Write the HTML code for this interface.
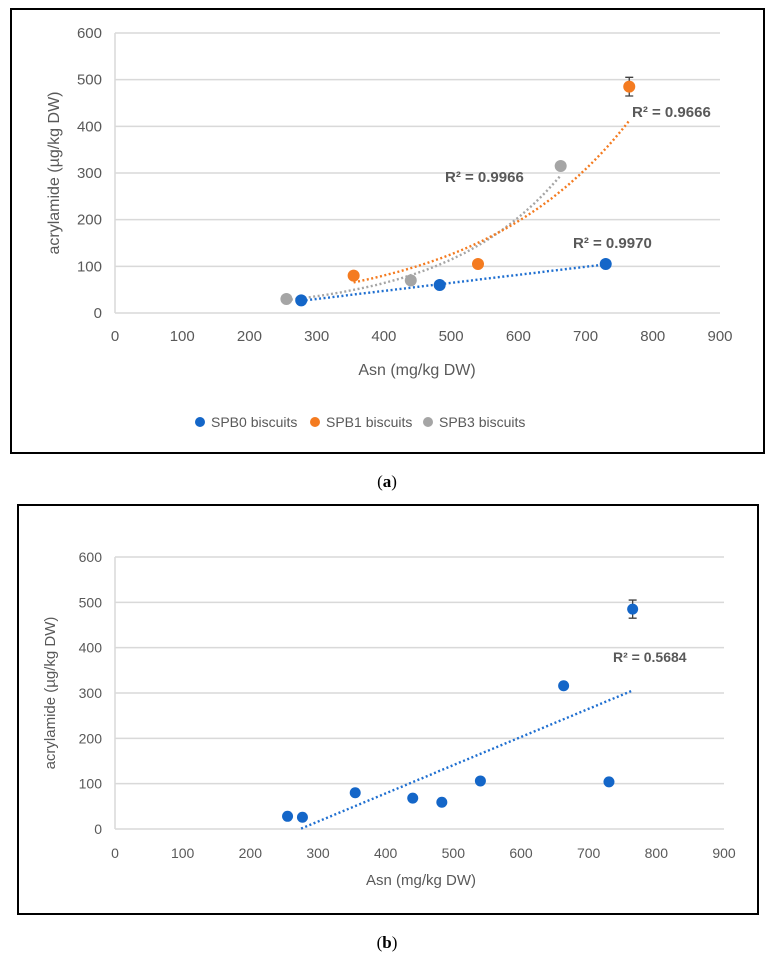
<!DOCTYPE html>
<html><head><meta charset="utf-8"><style>
body{margin:0;background:#fff;width:774px;height:964px;overflow:hidden;font-family:"Liberation Sans",sans-serif}
svg{position:absolute;left:0;top:0}
</style></head><body>
<svg id="s" width="774" height="964" font-family="Liberation Sans, sans-serif">
<rect x="11" y="9" width="753" height="444" fill="#fff" stroke="#000" stroke-width="2"/>
<rect x="18" y="505" width="740" height="409" fill="#fff" stroke="#000" stroke-width="2"/>
<text x="387" y="487" font-family="Liberation Serif, serif" font-size="17" text-anchor="middle" fill="#000">(<tspan font-weight="bold">a</tspan>)</text>
<text x="387" y="948" font-family="Liberation Serif, serif" font-size="17" text-anchor="middle" fill="#000">(<tspan font-weight="bold">b</tspan>)</text>
<g id="ga"></g><g id="gb"></g>
</svg>
<script>
const xTicks=[0,100,200,300,400,500,600,700,800,900];
const yTicks=[0,100,200,300,400,500,600];
const spb0X=[277,483,730], spb0Y=[27,60,105];
const spb1X=[355,540,765], spb1Y=[80,105,485];
const spb3X=[255,440,663], spb3Y=[30,70,315];
const spb1Err=[0,0,20];
const allX=[255,277,355,440,483,540,663,730,765];
const allY=[28,26,80,68,59,106,316,104,485];
const allErr=[0,0,0,0,0,0,0,0,20];
const NS="http://www.w3.org/2000/svg";
function el(p,t,a){const e=document.createElementNS(NS,t);for(const k in a)e.setAttribute(k,a[k]);p.appendChild(e);return e;}
function axes(g,L,R,T,B,labelSize,tickOff){
 const sx=v=>L+(R-L)*v/900, sy=v=>B-(B-T)*v/600;
 yTicks.forEach(v=>{const l=el(g,'line',{x1:L,x2:R,y1:sy(v),y2:sy(v),stroke:'#d9d9d9','stroke-width':1.5});
  
  const t=el(g,'text',{x:L-13,y:sy(v)+5,'text-anchor':'end','font-size':labelSize,fill:'#595959'});t.textContent=v;
  });
 const ax=el(g,'line',{x1:L,x2:L,y1:T,y2:B,stroke:'#d9d9d9','stroke-width':1.5});
 
 xTicks.forEach(v=>{const t=el(g,'text',{x:sx(v),y:B+tickOff,'text-anchor':'middle','font-size':labelSize,fill:'#595959'});t.textContent=v;
  });
 return [sx,sy];
}
function pts(g,xs,ys,errs,col,r,sx,sy,name){
 xs.forEach((x,i)=>{
  if(errs[i]){const e=el(g,'path',{d:`M${sx(x)-4},${sy(ys[i]+errs[i])}h8M${sx(x)},${sy(ys[i]+errs[i])}V${sy(ys[i]-errs[i])}M${sx(x)-4},${sy(ys[i]-errs[i])}h8`,stroke:'#404040','stroke-width':1.3,fill:'none'});
   }
  const c=el(g,'circle',{cx:sx(x),cy:sy(ys[i]),r:r,fill:col});
  });
}
function curve(g,f,x0,x1,col,sx,sy,name){
 let d='';for(let i=0;i<=60;i++){const x=x0+(x1-x0)*i/60;d+=(i?'L':'M')+sx(x).toFixed(1)+','+sy(f(x)).toFixed(1);}
 const p=el(g,'path',{d:d,stroke:col,'stroke-width':2.4,fill:'none','stroke-dasharray':'2 2.5'});
 
}
function expFit(xs,ys){let n=xs.length,sx=0,sy=0,sxx=0,sxy=0;xs.forEach((x,i)=>{const l=Math.log(ys[i]);sx+=x;sy+=l;sxx+=x*x;sxy+=x*l;});
 const b=(n*sxy-sx*sy)/(n*sxx-sx*sx),a=Math.exp((sy-b*sx)/n);return x=>a*Math.exp(b*x);}
function linFit(xs,ys){let n=xs.length,sx=0,sy=0,sxx=0,sxy=0;xs.forEach((x,i)=>{sx+=x;sy+=ys[i];sxx+=x*x;sxy+=x*ys[i];});
 const b=(n*sxy-sx*sy)/(n*sxx-sx*sx),a=(sy-b*sx)/n;return x=>a+b*x;}
function txt(g,x,y,s,size,attrs,name){const t=el(g,'text',Object.assign({x:x,y:y,'font-size':size,fill:'#595959'},attrs||{}));t.textContent=s;
 return t;}
// chart a
const ga=document.getElementById('ga');
const [ax,ay]=axes(ga,115,720,33,313,15,28);
curve(ga,linFit(spb0X,spb0Y),spb0X[0],spb0X[2],'#1f6fd0',ax,ay,'trendline-spb0');
curve(ga,expFit(spb3X,spb3Y),spb3X[0],spb3X[2],'#a5a5a5',ax,ay,'trendline-spb3');
curve(ga,expFit(spb1X,spb1Y),spb1X[0],spb1X[2],'#f47b20',ax,ay,'trendline-spb1');
pts(ga,spb3X,spb3Y,[0,0,0],'#a5a5a5',6,ax,ay,'spb3');
pts(ga,spb1X,spb1Y,spb1Err,'#f47b20',6,ax,ay,'spb1');
pts(ga,spb0X,spb0Y,[0,0,0],'#1466c8',6,ax,ay,'spb0');
txt(ga,632,117,'R² = 0.9666',15,{'font-weight':'bold'},'r2-spb1');
txt(ga,445,182,'R² = 0.9966',15,{'font-weight':'bold'},'r2-spb3');
txt(ga,573,248,'R² = 0.9970',15,{'font-weight':'bold'},'r2-spb0');
txt(ga,40,173,'acrylamide (µg/kg DW)',16,{transform:'rotate(-90 54 173)','text-anchor':'middle',x:54,y:178},'y-axis-title-a');
txt(ga,417,375,'Asn (mg/kg DW)',16,{'text-anchor':'middle'},'x-axis-title-a');
[['SPB0 biscuits','#1466c8',192],['SPB1 biscuits','#f47b20',307],['SPB3 biscuits','#a5a5a5',420]].forEach((l,i)=>{
 const c=el(ga,'circle',{cx:l[2]+8,cy:422,r:5,fill:l[1]});
 txt(ga,l[2]+19,427,l[0],14,{},'legend-entry-'+i);});
// chart b
const gb=document.getElementById('gb');
const [bx,by]=axes(gb,115,724,557,829,14,29);
curve(gb,linFit(allX,allY),275,765,'#1f6fd0',bx,by,'trendline-all');
pts(gb,allX,allY,allErr,'#1466c8',5.5,bx,by,'all');
txt(gb,613,662,'R² = 0.5684',14,{'font-weight':'bold'},'r2-all');
txt(gb,45,693,'acrylamide (µg/kg DW)',15,{transform:'rotate(-90 50 693)','text-anchor':'middle',x:50,y:698},'y-axis-title-b');
txt(gb,421,885,'Asn (mg/kg DW)',15,{'text-anchor':'middle'},'x-axis-title-b');
</script>
</body></html>
